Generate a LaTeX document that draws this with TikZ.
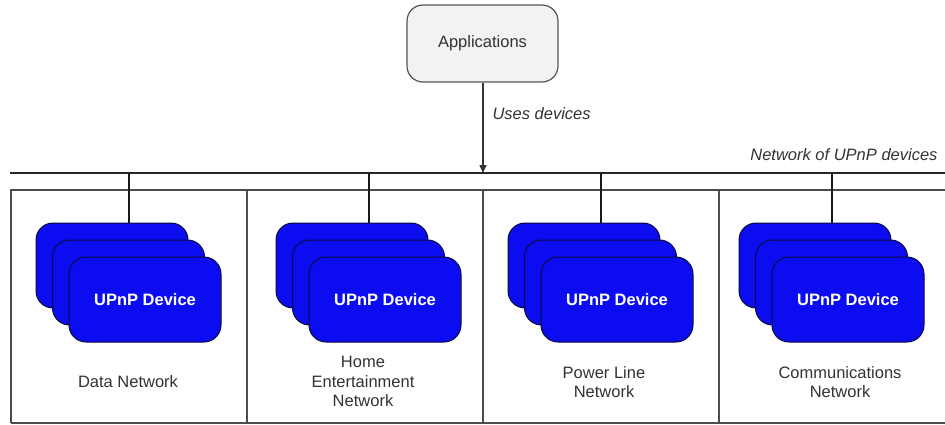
\documentclass[tikz,border=0pt]{standalone}
\usepackage{fontspec}
\setmainfont{Liberation Sans}
\usetikzlibrary{arrows.meta}
\definecolor{devblue}{RGB}{12,12,240}
\definecolor{devedge}{RGB}{10,10,60}
\definecolor{appfill}{RGB}{242,242,242}
\definecolor{appedge}{RGB}{85,85,85}
\definecolor{txt}{RGB}{50,50,50}
\tikzset{
  appbox/.style={draw=appedge, line width=1.2pt, fill=appfill, rounded corners=16pt,
    minimum width=151pt, minimum height=77pt, inner sep=0pt, text=txt,
    font=\fontsize{16.5}{19.5}\selectfont},
  devcard/.style={draw=devedge, line width=1pt, fill=devblue, rounded corners=17pt,
    minimum width=152pt, minimum height=85pt, inner sep=0pt, text=white,
    font=\fontsize{16.5}{19.5}\selectfont\bfseries},
  netlabel/.style={align=center, text=txt, font=\fontsize{16.5}{19.5}\selectfont},
  italabel/.style={text=txt, font=\fontsize{16.5}{19.5}\selectfont\itshape},
  bus/.style={line width=1.8pt, black!85},
  tap/.style={line width=1.4pt, black!90},
  frame/.style={line width=1.2pt, black!70},
}
\begin{document}
\begin{tikzpicture}[x=1pt, y=-1pt]
\useasboundingbox (0,0) rectangle (945,425);

% application box and its link down to the bus
\node[appbox] (app) at (482.5,43.5) {Applications};
\coordinate (busL) at (10,173);
\coordinate (busR) at (945,173);
\coordinate (busA) at (483,173);
\draw[bus] (busL) -- (busR);
\draw[line width=1.3pt, black!80, -{Triangle[length=8pt,width=7pt]}] (app.south -| busA) -- (busA);
\node[italabel, anchor=west] (uses) at (489,114) {Uses devices};
\node[italabel, anchor=east] (netname) at (941,155) {Network of UPnP devices};

% network frame split into four columns
\draw[frame] (11,423) -- (11,190) -- (960,190);
\draw[frame] (11,423) -- (960,423);
\draw[frame] (247,190) -- (247,423);
\draw[frame] (483,190) -- (483,423);
\draw[frame] (719,190) -- (719,423);

% device stacks: left edge of the rear card, label centre
\foreach \i/\L/\cx in {1/36/128, 2/276/363, 3/508/604, 4/739/840} {
  \node[devcard] (back\i) at (\L+76,265.5) {};
  \node[devcard] (mid\i) at (\L+92.5,282.5) {};
  \node[devcard] (front\i) at (\L+109,299.5) {UPnP Device};
  \coordinate (tap\i) at (\L+93,173);
  \draw[tap] (tap\i) -- (tap\i |- back\i.north);
}

\node[netlabel] (net1) at (128,382) {Data Network};
\node[netlabel] (net2) at (363,381.5) {Home\\Entertainment\\Network};
\node[netlabel] (net3) at (604,382) {Power Line\\Network};
\node[netlabel] (net4) at (840,382) {Communications\\Network};
\end{tikzpicture}
\end{document}
